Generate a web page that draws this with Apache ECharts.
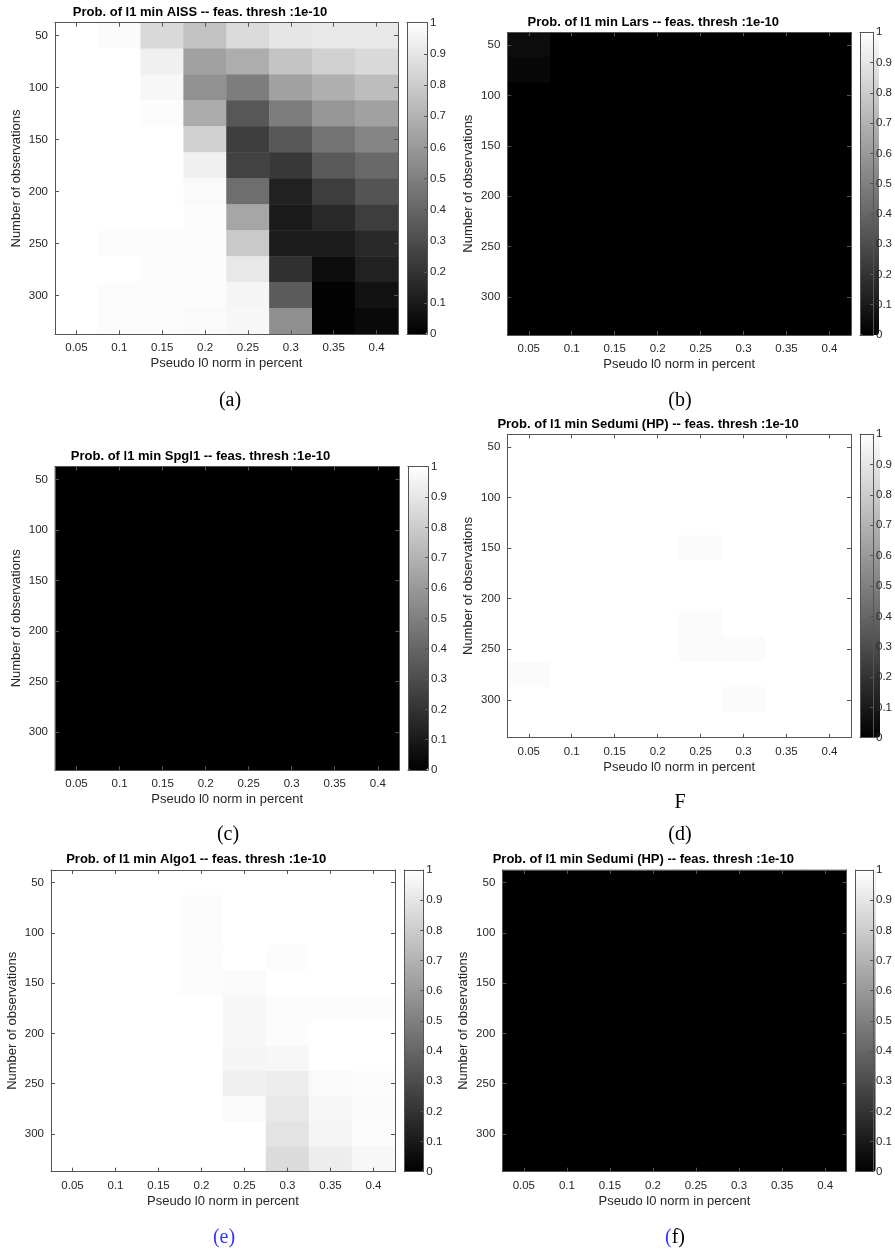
<!DOCTYPE html>
<html>
<head>
<meta charset="utf-8">
<script src="https://cdn.jsdelivr.net/npm/echarts@6/dist/echarts.min.js"></script>
<style>
  html, body { margin: 0; padding: 0; background: #fff; }
  #chart { width: 895px; height: 1251px; }
</style>
</head>
<body>
<div id="chart"></div>
<script>
// x: pseudo l0 norm, y: number of observations
const sparsity = ['0.05', '0.1', '0.15', '0.2', '0.25', '0.3', '0.35', '0.4'];
const observations = ['50', '75', '100', '125', '150', '175', '200', '225', '250', '275', '300', '325'];

// probability of success, one row per observation count
const probAISS = [
  [1.00, 0.985, 0.85, 0.76, 0.86, 0.90, 0.91, 0.91],
  [1.00, 1.00, 0.94, 0.63, 0.68, 0.77, 0.82, 0.85],
  [1.00, 1.00, 0.97, 0.57, 0.49, 0.63, 0.69, 0.74],
  [1.00, 1.00, 0.99, 0.67, 0.34, 0.49, 0.59, 0.63],
  [1.00, 1.00, 1.00, 0.82, 0.24, 0.34, 0.45, 0.52],
  [1.00, 1.00, 1.00, 0.94, 0.26, 0.22, 0.35, 0.41],
  [1.00, 1.00, 1.00, 0.98, 0.43, 0.13, 0.24, 0.33],
  [1.00, 1.00, 1.00, 0.99, 0.65, 0.10, 0.16, 0.24],
  [1.00, 0.99, 0.99, 0.99, 0.79, 0.11, 0.11, 0.16],
  [1.00, 1.00, 0.99, 0.99, 0.91, 0.19, 0.05, 0.13],
  [1.00, 0.99, 0.99, 0.99, 0.96, 0.36, 0.01, 0.07],
  [1.00, 0.99, 0.99, 0.98, 0.97, 0.56, 0.01, 0.04]
];
const probLars = [
  [0.05, 0, 0, 0, 0, 0, 0, 0],
  [0.03, 0, 0, 0, 0, 0, 0, 0],
  [0, 0, 0, 0, 0, 0, 0, 0],
  [0, 0, 0, 0, 0, 0, 0, 0],
  [0, 0, 0, 0, 0, 0, 0, 0],
  [0, 0, 0, 0, 0, 0, 0, 0],
  [0, 0, 0, 0, 0, 0, 0, 0],
  [0, 0, 0, 0, 0, 0, 0, 0],
  [0, 0, 0, 0, 0, 0, 0, 0],
  [0, 0, 0, 0, 0, 0, 0, 0],
  [0, 0, 0, 0, 0, 0, 0, 0],
  [0, 0, 0, 0, 0, 0, 0, 0]
];
const probSpgl1 = [
  [0, 0, 0, 0, 0, 0, 0, 0],
  [0, 0, 0, 0, 0, 0, 0, 0],
  [0, 0, 0, 0, 0, 0, 0, 0],
  [0, 0, 0, 0, 0, 0, 0, 0],
  [0, 0, 0, 0, 0, 0, 0, 0],
  [0, 0, 0, 0, 0, 0, 0, 0],
  [0, 0, 0, 0, 0, 0, 0, 0],
  [0, 0, 0, 0, 0, 0, 0, 0],
  [0, 0, 0, 0, 0, 0, 0, 0],
  [0, 0, 0, 0, 0, 0, 0, 0],
  [0, 0, 0, 0, 0, 0, 0, 0],
  [0, 0, 0, 0, 0, 0, 0, 0]
];
const probSedumiD = [
  [1, 1, 1, 1, 1, 1, 1, 1],
  [1, 1, 1, 1, 1, 1, 1, 1],
  [1, 1, 1, 1, 1, 1, 1, 1],
  [1, 1, 1, 1, 1, 1, 1, 1],
  [1, 1, 1, 1, 0.985, 1, 1, 1],
  [1, 1, 1, 1, 1, 1, 1, 1],
  [1, 1, 1, 1, 1, 1, 1, 1],
  [1, 1, 1, 1, 0.985, 1, 1, 1],
  [1, 1, 1, 1, 0.985, 0.985, 1, 1],
  [0.985, 1, 1, 1, 1, 1, 1, 1],
  [1, 1, 1, 1, 1, 0.985, 1, 1],
  [1, 1, 1, 1, 1, 1, 1, 1]
];
const probAlgo1 = [
  [1, 1, 1, 1, 1, 1, 1, 1],
  [1, 1, 1, 0.99, 1, 1, 1, 1],
  [1, 1, 1, 0.99, 1, 1, 1, 1],
  [1, 1, 1, 0.99, 1, 0.99, 1, 1],
  [1, 1, 1, 0.99, 0.98, 1, 1, 1],
  [1, 1, 1, 1, 0.97, 0.99, 0.99, 0.99],
  [1, 1, 1, 1, 0.97, 0.99, 1, 1],
  [1, 1, 1, 1, 0.96, 0.97, 1, 1],
  [1, 1, 1, 1, 0.94, 0.93, 0.98, 0.99],
  [1, 1, 1, 1, 0.98, 0.91, 0.97, 0.98],
  [1, 1, 1, 1, 1, 0.89, 0.96, 0.99],
  [1, 1, 1, 1, 1, 0.86, 0.93, 0.97]
];
const probSedumiF = [
  [0, 0, 0, 0, 0, 0, 0, 0],
  [0, 0, 0, 0, 0, 0, 0, 0],
  [0, 0, 0, 0, 0, 0, 0, 0],
  [0, 0, 0, 0, 0, 0, 0, 0],
  [0, 0, 0, 0, 0, 0, 0, 0],
  [0, 0, 0, 0, 0, 0, 0, 0],
  [0, 0, 0, 0, 0, 0, 0, 0],
  [0, 0, 0, 0, 0, 0, 0, 0],
  [0, 0, 0, 0, 0, 0, 0, 0],
  [0, 0, 0, 0, 0, 0, 0, 0],
  [0, 0, 0, 0, 0, 0, 0, 0],
  [0, 0, 0, 0, 0, 0, 0, 0]
];

const titles = [
  'Prob. of l1 min AISS -- feas. thresh :1e-10',
  'Prob. of l1 min Lars -- feas. thresh :1e-10',
  'Prob. of l1 min Spgl1 -- feas. thresh :1e-10',
  'Prob. of l1 min Sedumi (HP) -- feas. thresh :1e-10',
  'Prob. of l1 min Algo1 -- feas. thresh :1e-10',
  'Prob. of l1 min Sedumi (HP) -- feas. thresh :1e-10'
];
const matrices = [probAISS, probLars, probSpgl1, probSedumiD, probAlgo1, probSedumiF];

// layout of each panel: plot box, colorbar, title position, backdrop (hides cell seams)
const layout = [
  { l: 55,    t: 22.7,  w: 343,   h: 311.6, bx: 407,   bw: 20, tx: 200,   ty: 12.7,  bg: '#fff' },
  { l: 507.3, t: 32.3,  w: 343.7, h: 302.7, bx: 860,   bw: 19, tx: 653.3, ty: 22.7,  bg: '#000' },
  { l: 55,    t: 466.7, w: 344.3, h: 303.3, bx: 408,   bw: 20, tx: 200.5, ty: 456.7, bg: '#000' },
  { l: 507.3, t: 434.3, w: 343.7, h: 303.4, bx: 860,   bw: 20, tx: 648,   ty: 424.3, bg: '#fff' },
  { l: 51,    t: 870,   w: 344,   h: 301.7, bx: 404.3, bw: 19, tx: 196.2, ty: 859.3, bg: '#fff' },
  { l: 502.3, t: 870,   w: 344.4, h: 301.7, bx: 855.7, bw: 20, tx: 643.3, ty: 859.3, bg: '#000' }
];

const FONT = '"Liberation Sans", Arial, sans-serif';
const AX = '#555';
const TXT = '#262626';

const grid = [], xAxis = [], yAxis = [], series = [], visualMap = [], graphic = [];

layout.forEach((p, i) => {
  const g = grid.length;
  grid.push({ left: p.l, top: p.t, width: p.w, height: p.h, show: true, backgroundColor: p.bg, borderWidth: 0 });
  grid.push({ left: p.bx, top: p.t, width: p.bw, height: p.h });

  const lineStyle = { color: AX, width: 1 };
  const catTick = { show: true, inside: true, length: 4, alignWithLabel: true, lineStyle: lineStyle };

  // plot box: bottom, top
  const xb = xAxis.length;
  xAxis.push({
    gridIndex: g, type: 'category', data: sparsity, position: 'bottom', z: 5,
    axisLine: { show: true, lineStyle: lineStyle },
    axisTick: Object.assign({ interval: 0 }, catTick),
    axisLabel: { color: TXT, fontSize: 11.5, fontFamily: FONT, margin: 8, interval: 0 },
    splitLine: { show: false },
    name: 'Pseudo l0 norm in percent', nameLocation: 'middle', nameGap: 23,
    nameTextStyle: { color: TXT, fontSize: 13, fontFamily: FONT }
  });
  xAxis.push({
    gridIndex: g, type: 'category', data: sparsity, position: 'top', z: 5,
    axisLine: { show: true, lineStyle: lineStyle },
    axisTick: Object.assign({ interval: 0 }, catTick),
    axisLabel: { show: false }, splitLine: { show: false }
  });
  const yl = yAxis.length;
  yAxis.push({
    gridIndex: g, type: 'category', data: observations, inverse: true, position: 'left', z: 5,
    axisLine: { show: true, lineStyle: lineStyle },
    axisTick: Object.assign({ interval: 1 }, catTick),
    axisLabel: { color: TXT, fontSize: 11.5, fontFamily: FONT, margin: 7, interval: 1 },
    splitLine: { show: false },
    name: 'Number of observations', nameLocation: 'middle', nameGap: 32, nameRotate: 90,
    nameTextStyle: { color: TXT, fontSize: 13, fontFamily: FONT }
  });
  yAxis.push({
    gridIndex: g, type: 'category', data: observations, inverse: true, position: 'right', z: 5,
    axisLine: { show: true, lineStyle: lineStyle },
    axisTick: Object.assign({ interval: 1 }, catTick),
    axisLabel: { show: false }, splitLine: { show: false }
  });

  // colorbar frame and ticks
  ['bottom', 'top'].forEach(pos => xAxis.push({
    gridIndex: g + 1, type: 'value', min: 0, max: 1, position: pos, z: 10,
    axisLine: { show: true, onZero: false, lineStyle: lineStyle },
    axisTick: { show: false }, axisLabel: { show: false }, splitLine: { show: false }
  }));
  yAxis.push({
    gridIndex: g + 1, type: 'value', min: 0, max: 1, position: 'left', z: 10,
    axisLine: { show: true, onZero: false, lineStyle: lineStyle },
    axisTick: { show: false }, axisLabel: { show: false }, splitLine: { show: false }
  });
  yAxis.push({
    gridIndex: g + 1, type: 'value', min: 0, max: 1, interval: 0.1, position: 'right', z: 10,
    axisLine: { show: true, onZero: false, lineStyle: lineStyle },
    axisTick: { show: true, inside: true, length: 3, lineStyle: lineStyle },
    axisLabel: { color: TXT, fontSize: 11.5, fontFamily: FONT, margin: 3 },
    splitLine: { show: false }
  });

  const cells = [];
  matrices[i].forEach((row, r) => row.forEach((v, c) => cells.push([c, r, v])));
  series.push({
    type: 'heatmap', xAxisIndex: xb, yAxisIndex: yl, data: cells,
    itemStyle: { borderWidth: 0 }, emphasis: { disabled: true }, progressive: 0
  });

  visualMap.push({
    type: 'continuous', min: 0, max: 1, seriesIndex: i, calculable: false,
    orient: 'vertical', left: p.bx, top: p.t, itemWidth: p.bw, itemHeight: p.h,
    padding: 0, text: null, showLabel: false, hoverLink: false, z: 1,
    inRange: { color: ['#000000', '#ffffff'] }
  });

  graphic.push({
    type: 'text', x: p.tx, y: p.ty,
    style: { text: titles[i], font: 'bold 13px ' + FONT, fill: '#000', align: 'center', verticalAlign: 'middle' }
  });
});

// sub-figure captions
const capFont = '20px "Liberation Serif", "DejaVu Serif", serif';
const captions = [
  { text: '(a)', x: 230, y: 401, fill: '#000' },
  { text: '(b)', x: 680, y: 401, fill: '#000' },
  { text: '(c)', x: 228, y: 835, fill: '#000' },
  { text: 'F',   x: 680, y: 803, fill: '#000' },
  { text: '(d)', x: 680, y: 835, fill: '#000' },
  { text: '(e)', x: 224, y: 1238, fill: '#3333ff' }
];
captions.forEach(c => graphic.push({
  type: 'text', x: c.x, y: c.y,
  style: { text: c.text, font: capFont, fill: c.fill, align: 'center', verticalAlign: 'middle' }
}));
graphic.push({
  type: 'text', x: 675, y: 1238,
  style: {
    text: '{b|(}{k|f)}', font: capFont, align: 'center', verticalAlign: 'middle',
    rich: { b: { fill: '#3333ff', font: capFont }, k: { fill: '#000', font: capFont } }
  }
});

const chart = echarts.init(document.getElementById('chart'), null, { renderer: 'canvas' });
chart.setOption({
  backgroundColor: '#fff',
  animation: false,
  grid, xAxis, yAxis, series, visualMap, graphic
});
</script>
</body>
</html>
